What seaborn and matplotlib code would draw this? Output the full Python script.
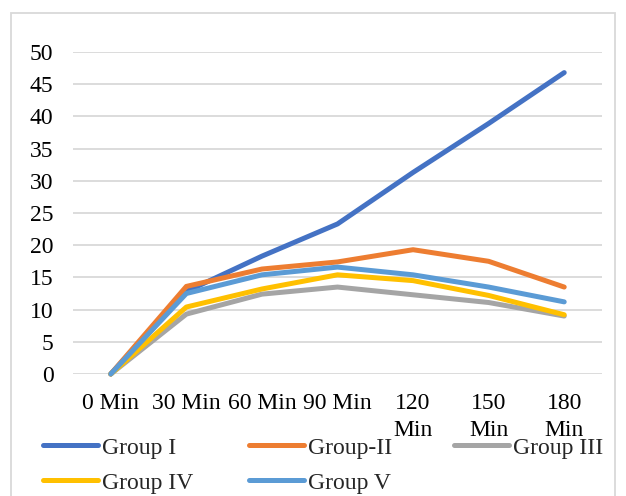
import matplotlib
matplotlib.use("Agg")
import matplotlib.pyplot as plt
import seaborn as sns
import pandas as pd
from matplotlib.patches import Rectangle
from matplotlib.lines import Line2D

times = ["0 Min", "30 Min", "60 Min", "90 Min", "120 Min", "150 Min", "180 Min"]
tick_labels = ["0 Min", "30 Min", "60 Min", "90 Min", "120\nMin", "150\nMin", "180\nMin"]
group_i = [0, 12.8, 18.3, 23.3, 31.3, 38.9, 46.8]
group_ii = [0, 13.6, 16.3, 17.4, 19.3, 17.5, 13.5]
group_iii = [0, 9.3, 12.4, 13.5, 12.3, 11.1, 9.0]
group_iv = [0, 10.4, 13.2, 15.4, 14.5, 12.2, 9.2]
group_v = [0, 12.5, 15.4, 16.6, 15.4, 13.5, 11.2]
series_names = ["Group I", "Group-II", "Group III", "Group IV", "Group V"]
colors = ["#4472C4", "#ED7D31", "#A5A5A5", "#FFC000", "#5B9BD5"]

rows = []
for name, vals in zip(series_names, [group_i, group_ii, group_iii, group_iv, group_v]):
    for t, v in zip(times, vals):
        rows.append({"time": t, "value": v, "group": name})
df = pd.DataFrame(rows)

sns.set_theme(style="white")
plt.rcParams["font.family"] = ["Liberation Serif", "DejaVu Serif"]
FS = 17

fig = plt.figure(figsize=(6.26, 4.96), dpi=100)
ax = fig.add_axes([73 / 626, 1 - 374 / 496, (602 - 73) / 626, (374 - 52) / 496])

sns.lineplot(data=df, x="time", y="value", hue="group", hue_order=series_names,
             palette=colors, linewidth=3.6, ax=ax, legend=False, sort=False,
             solid_capstyle="round")
for ln in ax.get_lines():
    ln.set_clip_on(False)

ax.set_xlim(-0.5, 6.5)
ax.set_ylim(0, 50)
ax.set_yticks(range(0, 51, 5))
ax.set_xticks(range(len(times)))
ax.set_xticklabels(tick_labels, fontsize=FS, linespacing=1.35)
ax.tick_params(axis="y", labelsize=FS, pad=14, length=0, colors="black")
ax.tick_params(axis="x", pad=14, length=0, colors="black")
ax.set_xlabel("")
ax.set_ylabel("")
ax.yaxis.grid(True, color="#D9D9D9", linewidth=1.3)
ax.xaxis.grid(False)
ax.set_axisbelow(True)
for s in ax.spines.values():
    s.set_visible(False)

# Legend: row-major like the reference, one legend per column
hs = [Line2D([0], [0], color=c, linewidth=3.6, solid_capstyle="round") for c in colors]
columns = [([0, 3], 43), ([1, 4], 249), ([2], 454)]
for idx, xpx in columns:
    leg = fig.legend([hs[i] for i in idx], [series_names[i] for i in idx],
                     loc="upper left", bbox_to_anchor=(xpx / 626, 1 - 437 / 496),
                     ncol=1, frameon=False, fontsize=FS, handlelength=2.33,
                     handletextpad=0.15, labelspacing=0.57,
                     borderpad=0, borderaxespad=0)

fig.patches.append(Rectangle((11 / 626, -0.02), (615 - 11) / 626, 1 - 13 / 496 + 0.02,
                             transform=fig.transFigure, fill=False,
                             edgecolor="#D9D9D9", linewidth=1.3))

fig.savefig("out.png", dpi=100, facecolor="white")
